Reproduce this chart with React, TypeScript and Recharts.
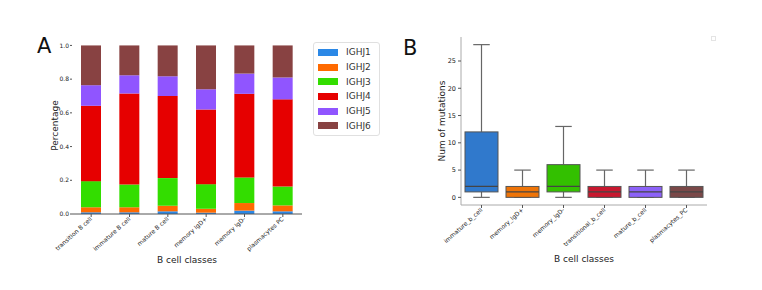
import React from 'react';
import {
  BarChart,
  Bar,
  XAxis,
  YAxis,
  Legend,
} from 'recharts';

// Panel A: IGHJ gene usage per B cell class (stacked fractions)
const classesA = [
  'transition B cell',
  'immature B cell',
  'mature B cell',
  'memory IgD+',
  'memory IgD-',
  'plasmacytes PC',
];
const genes = ['IGHJ1', 'IGHJ2', 'IGHJ3', 'IGHJ4', 'IGHJ5', 'IGHJ6'];
const ighj1 = [0.01, 0.01, 0.016, 0.008, 0.02, 0.016];
const ighj2 = [0.03, 0.03, 0.033, 0.023, 0.045, 0.035];
const ighj3 = [0.155, 0.135, 0.164, 0.146, 0.152, 0.112];
const ighj4 = [0.447, 0.54, 0.487, 0.443, 0.496, 0.517];
const ighj5 = [0.122, 0.108, 0.117, 0.12, 0.12, 0.13];
const ighj6 = [0.236, 0.177, 0.183, 0.26, 0.167, 0.19];
const percentTicks = [0, 0.2, 0.4, 0.6, 0.8, 1.0];
const geneColors = ['#2b88e6', '#ff6a00', '#33dd00', '#e60000', '#9055ff', '#884242'];

// Panel B: number of mutations per B cell class (box plot stats)
const classesB = [
  'immature_b_cell',
  'memory_IgD+',
  'memory_IgD-',
  'transitional_b_cell',
  'mature_b_cell',
  'plasmacytes_PC',
];
const mutMin = [0, 0, 0, 0, 0, 0];
const mutQ1 = [1, 0, 1, 0, 0, 0];
const mutMedian = [2, 1, 2, 1, 1, 1];
const mutQ3 = [12, 2, 6, 2, 2, 2];
const mutMax = [28, 5, 13, 5, 5, 5];
const mutTicks = [0, 5, 10, 15, 20, 25];
const boxColors = ['#3079cc', '#ee7408', '#33c000', '#c8182f', '#8c62f8', '#7a4848'];

const FONT = '"DejaVu Sans", sans-serif';

const geneSeries = [ighj1, ighj2, ighj3, ighj4, ighj5, ighj6];
const dataA = classesA.map((name, i) => {
  const row: any = { name };
  genes.forEach((g, j) => {
    row[g] = geneSeries[j][i];
  });
  return row;
});

const dataB = classesB.map((name, i) => ({
  name,
  range: [mutMin[i], mutMax[i]],
  min: mutMin[i],
  q1: mutQ1[i],
  median: mutMedian[i],
  q3: mutQ3[i],
  max: mutMax[i],
  color: boxColors[i],
}));

function RotatedTick(props: any) {
  const { x, y, payload } = props;
  return (
    <g transform={`translate(${x},${y})`}>
      <text
        transform="rotate(-42)"
        textAnchor="end"
        dy="0.35em"
        fontSize={6}
        fill="#222"
        fontFamily={FONT}
      >
        {payload.value}
      </text>
    </g>
  );
}

function GeneLegend(props: any) {
  const { payload } = props;
  return (
    <div
      style={{
        border: '1px solid #e0e0e0',
        borderRadius: 3,
        padding: '2px 4px 2px 4px',
        background: '#fff',
        width: 57,
      }}
    >
      {payload.map((entry: any) => (
        <div
          key={entry.value}
          style={{ display: 'flex', alignItems: 'center', height: 14.7 }}
        >
          <span
            style={{
              display: 'inline-block',
              width: 20,
              height: 7,
              background: entry.color,
              marginRight: 8,
            }}
          />
          <span style={{ fontSize: 9, color: '#333', fontFamily: FONT }}>
            {entry.value}
          </span>
        </div>
      ))}
    </div>
  );
}

function BoxShape(props: any) {
  const { x, y, width, height, payload } = props;
  const top = Math.min(y, y + height);
  const h = Math.abs(height);
  const span = payload.max - payload.min;
  const py = (v: number) => top + (h * (payload.max - v)) / span;
  const cx = x + width / 2;
  const cap = width / 4;
  return (
    <g>
      <line x1={cx} x2={cx} y1={py(payload.max)} y2={py(payload.q3)} stroke="#666" strokeWidth={1.2} />
      <line x1={cx} x2={cx} y1={py(payload.q1)} y2={py(payload.min)} stroke="#666" strokeWidth={1.2} />
      <line x1={cx - cap} x2={cx + cap} y1={py(payload.max)} y2={py(payload.max)} stroke="#666" strokeWidth={1.2} />
      <line x1={cx - cap} x2={cx + cap} y1={py(payload.min)} y2={py(payload.min)} stroke="#666" strokeWidth={1.2} />
      <rect
        x={x}
        y={py(payload.q3)}
        width={width}
        height={py(payload.q1) - py(payload.q3)}
        fill={payload.color}
        stroke="#555"
        strokeWidth={1}
      />
      <line x1={x} x2={x + width} y1={py(payload.median)} y2={py(payload.median)} stroke="#444" strokeWidth={1.2} />
    </g>
  );
}

const panelLetter: React.CSSProperties = {
  position: 'absolute',
  fontFamily: FONT,
  fontSize: 21,
  color: '#111',
  lineHeight: 1,
};

export default function App() {
  return (
    <div
      style={{
        position: 'absolute',
        left: 0,
        top: 0,
        width: 762,
        height: 290,
        background: '#fff',
        overflow: 'hidden',
      }}
    >
      <div style={{ ...panelLetter, left: 37, top: 36 }}>A</div>
      <div style={{ ...panelLetter, left: 403, top: 38 }}>B</div>

      {/* Panel A */}
      <div style={{ position: 'absolute', left: 0, top: 0 }}>
        <BarChart
          width={390}
          height={290}
          data={dataA}
          margin={{ top: 37, right: 88, bottom: 0, left: 0 }}
          barSize={20}
        >
          <XAxis
            dataKey="name"
            height={76}
            interval={0}
            tick={<RotatedTick />}
            tickSize={3}
            tickMargin={1}
            axisLine={{ stroke: '#555' }}
            tickLine={{ stroke: '#555' }}
            label={{
              value: 'B cell classes',
              position: 'insideBottom',
              offset: 27,
              fontSize: 9,
              fill: '#222',
              fontFamily: FONT,
            }}
          />
          <YAxis
            yAxisId="left"
            width={72}
            domain={[0, 1.05]}
            ticks={percentTicks}
            tickFormatter={(v: number) => v.toFixed(1)}
            axisLine={false}
            tickSize={2}
            tickMargin={1}
            tickLine={{ stroke: '#555' }}
            tick={{ fontSize: 6, fill: '#222', fontFamily: FONT }}
            label={{
              value: 'Percentage',
              angle: -90,
              position: 'insideLeft',
              offset: 55,
              fontSize: 9,
              fill: '#222',
              fontFamily: FONT,
              style: { textAnchor: 'middle' },
            }}
          />
          <YAxis
            yAxisId="right"
            orientation="right"
            width={0}
            tick={false}
            tickLine={false}
            axisLine={{ stroke: '#888' }}
          />
          <Legend
            layout="vertical"
            align="center"
            verticalAlign="middle"
            content={<GeneLegend />}
            wrapperStyle={{ left: 313, top: 42, width: 66 }}
          />
          {genes.map((g, j) => (
            <Bar
              key={g}
              yAxisId="left"
              dataKey={g}
              stackId="a"
              fill={geneColors[j]}
              isAnimationActive={false}
            />
          ))}
        </BarChart>
      </div>

      {/* Panel B */}
      <div style={{ position: 'absolute', left: 390, top: 0 }}>
        <BarChart
          width={372}
          height={290}
          data={dataB}
          margin={{ top: 37, right: 55, bottom: 0, left: 0 }}
          barSize={33}
        >
          <XAxis
            dataKey="name"
            height={85}
            interval={0}
            tick={<RotatedTick />}
            tickSize={3}
            tickMargin={1}
            axisLine={{ stroke: '#aaa' }}
            tickLine={{ stroke: '#555' }}
            label={{
              value: 'B cell classes',
              position: 'insideBottom',
              offset: 28,
              fontSize: 9,
              fill: '#222',
              fontFamily: FONT,
            }}
          />
          <XAxis
            xAxisId="top"
            orientation="top"
            dataKey="name"
            height={0}
            tick={false}
            tickLine={false}
            axisLine={{ stroke: '#ccc' }}
          />
          <YAxis
            width={71}
            domain={[-1.4, 29.4]}
            ticks={mutTicks}
            allowDataOverflow
            axisLine={{ stroke: '#aaa' }}
            tickSize={3}
            tickMargin={2}
            tickLine={{ stroke: '#555' }}
            tick={{ fontSize: 6.5, fill: '#222', fontFamily: FONT }}
            label={{
              value: 'Num of mutations',
              angle: -90,
              position: 'insideLeft',
              offset: 52,
              fontSize: 9,
              fill: '#222',
              fontFamily: FONT,
              style: { textAnchor: 'middle' },
            }}
          />
          <YAxis
            yAxisId="right"
            orientation="right"
            width={0}
            tick={false}
            tickLine={false}
            axisLine={{ stroke: '#aaa', strokeWidth: 1.5 }}
          />
          <Bar dataKey="range" shape={<BoxShape />} isAnimationActive={false} />
        </BarChart>
      </div>
      <div
        style={{
          position: 'absolute',
          left: 711,
          top: 36,
          width: 3,
          height: 3,
          border: '1px solid #e4e4e4',
        }}
      />
    </div>
  );
}
